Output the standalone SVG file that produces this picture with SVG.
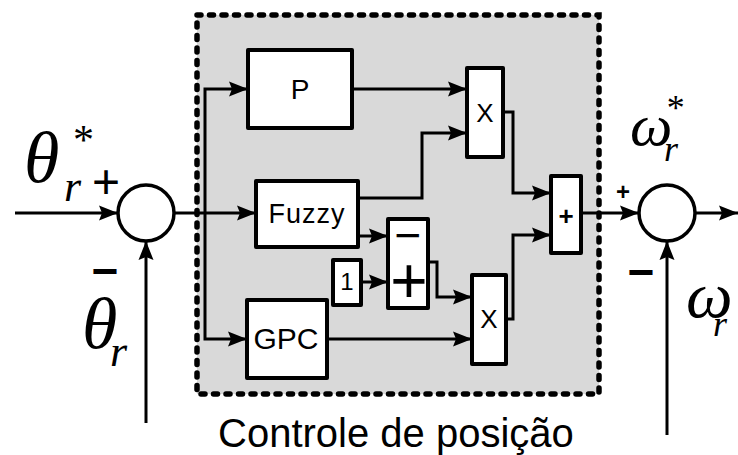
<svg xmlns="http://www.w3.org/2000/svg" width="738" height="455" viewBox="0 0 738 455">
<style>
.blk{fill:#fff;stroke:#000;stroke-width:4;stroke-linejoin:round}
.ln{fill:none;stroke:#000;stroke-width:3}
.lbl{font-family:"Liberation Sans",Arial,sans-serif;fill:#000;text-anchor:middle}
.cap{font-family:"Liberation Sans",Arial,sans-serif;fill:#000;text-anchor:start}
.m{font-family:"Liberation Serif","Times New Roman",serif;font-style:italic;fill:#000}
.sg{font-family:"Liberation Sans",Arial,sans-serif;fill:#000;text-anchor:middle}
</style>
<defs>
<marker id="ah" markerUnits="userSpaceOnUse" markerWidth="20" markerHeight="18" viewBox="0 0 20 18" refX="19" refY="9" orient="auto">
<path d="M0,1.5 L19,9 L0,16.5 L3,9 Z" fill="#000"/>
</marker>
</defs>
<rect x="197" y="15" width="402" height="379" fill="#d9d9d9" stroke="#000" stroke-width="5.5" stroke-dasharray="4 8.5" stroke-linecap="round"/>
<g id="connectors">
<line class="ln" x1="15" y1="213" x2="118" y2="213" marker-end="url(#ah)"/>
<line class="ln" x1="146" y1="423" x2="146" y2="241" marker-end="url(#ah)"/>
<line class="ln" x1="174" y1="213" x2="256" y2="213" marker-end="url(#ah)"/>
<polyline class="ln" points="205,213 205,89 248,89" marker-end="url(#ah)"/>
<polyline class="ln" points="205,213 205,339 247,339" marker-end="url(#ah)"/>
<line class="ln" x1="352" y1="89" x2="467" y2="89" marker-end="url(#ah)"/>
<polyline class="ln" points="358,198 422,198 422,133 467,133" marker-end="url(#ah)"/>
<line class="ln" x1="358" y1="236" x2="388" y2="236" marker-end="url(#ah)"/>
<line class="ln" x1="361" y1="282" x2="388" y2="282" marker-end="url(#ah)"/>
<polyline class="ln" points="428,262 437,262 437,297 472,297" marker-end="url(#ah)"/>
<line class="ln" x1="327" y1="339" x2="472" y2="339" marker-end="url(#ah)"/>
<polyline class="ln" points="503,112 513,112 513,193 551,193" marker-end="url(#ah)"/>
<polyline class="ln" points="506,319 513,319 513,235 551,235" marker-end="url(#ah)"/>
<line class="ln" x1="581" y1="213" x2="639" y2="213" marker-end="url(#ah)"/>
<line class="ln" x1="695" y1="213" x2="738" y2="213" marker-end="url(#ah)"/>
<line class="ln" x1="667" y1="435" x2="667" y2="241" marker-end="url(#ah)"/>
</g>
<g id="sum1"><circle cx="146" cy="213" r="28" fill="#fff" stroke="#000" stroke-width="3.5"/></g>
<g id="sum2"><circle cx="667" cy="213" r="28" fill="#fff" stroke="#000" stroke-width="3.5"/></g>
<g id="P"><rect class="blk" x="248" y="50" width="104" height="78"/><text class="lbl" x="300" y="99" font-size="28">P</text></g>
<g id="Fuzzy"><rect class="blk" x="256" y="181" width="102" height="66"/><text class="lbl" x="307" y="223" font-size="27" letter-spacing="1">Fuzzy</text></g>
<g id="GPC"><rect class="blk" x="247" y="300" width="80" height="78"/><text class="lbl" x="286" y="349" font-size="30">GPC</text></g>
<g id="one"><rect class="blk" x="333" y="260" width="28" height="45"/><text class="lbl" x="347" y="290" font-size="24">1</text></g>
<g id="diff"><rect class="blk" x="388" y="219" width="40" height="89"/><text class="sg" x="408" y="251" font-size="46">−</text><text class="sg" x="409" y="303" font-size="64">+</text></g>
<g id="mult1"><rect class="blk" x="467" y="68" width="36" height="89"/><text class="lbl" x="485" y="122" font-size="26">X</text></g>
<g id="mult2"><rect class="blk" x="472" y="275" width="34" height="89"/><text class="lbl" x="489" y="328" font-size="26">X</text></g>
<g id="add"><rect class="blk" x="551" y="176" width="30" height="77"/><text class="lbl" x="566" y="225" font-size="26" font-weight="bold">+</text></g>
<g id="labels">
<text class="sg" x="106" y="198" font-size="48">+</text>
<text class="sg" x="105" y="287" font-size="46" font-weight="bold">−</text>
<text class="sg" x="623" y="200" font-size="24" font-weight="bold">+</text>
<text class="sg" x="641" y="288" font-size="46" font-weight="bold">−</text>
<text class="m" x="24" y="182" font-size="72">θ</text>
<text class="m" x="64" y="201" font-size="44">r</text>
<text class="m" x="71" y="154" font-size="42" font-style="normal">*</text>
<text class="m" x="82" y="348" font-size="72">θ</text>
<text class="m" x="110" y="366" font-size="44">r</text>
<text class="m" x="630" y="145" font-size="60">ω</text>
<text class="m" x="664" y="161" font-size="36">r</text>
<text class="m" x="665" y="120" font-size="36" font-style="normal">*</text>
<text class="m" x="686" y="317" font-size="66">ω</text>
<text class="m" x="713" y="336" font-size="36">r</text>
<text class="cap" x="218" y="447" font-size="40">Controle de posição</text>
</g>
</svg>
